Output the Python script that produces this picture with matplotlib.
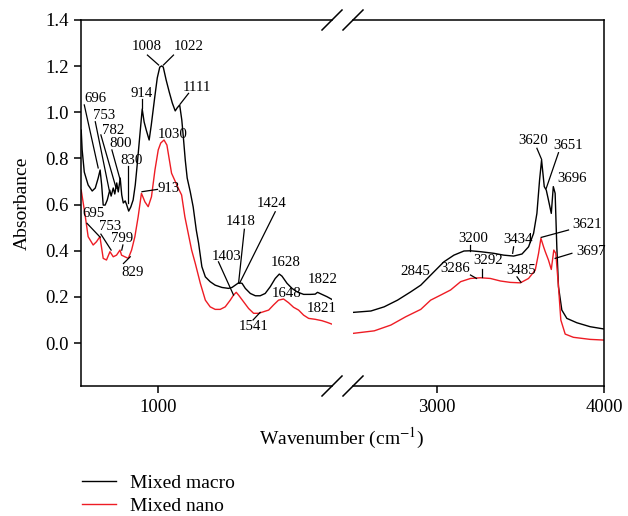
import matplotlib
matplotlib.use('Agg')
import matplotlib.pyplot as plt
from matplotlib.lines import Line2D

plt.rcParams['font.family'] = ['Liberation Serif', 'DejaVu Serif']
plt.rcParams['mathtext.fontset'] = 'stix'

# ---------------- data (wavenumber cm^-1, absorbance) ----------------
macro_low_wn = [601, 606, 617, 637, 658, 674, 689, 699, 707, 715, 725, 736, 749, 756, 767, 775,
                785, 793, 803, 811, 819, 829, 837, 847, 858, 870, 881, 891, 904, 917, 927, 938,
                953, 964, 982, 995, 1008, 1018, 1026, 1041, 1057, 1073, 1088, 1098, 1111, 1122,
                1130, 1140, 1150, 1166, 1181, 1197, 1209, 1226, 1244, 1269, 1295, 1330, 1364,
                1382, 1399, 1416, 1434, 1451, 1477, 1503, 1528, 1554, 1580, 1606, 1627, 1641,
                1667, 1693, 1719, 1753, 1788, 1813, 1825, 1848, 1874, 1900]
macro_low_abs = [0.923, 0.837, 0.741, 0.685, 0.659, 0.672, 0.715, 0.750, 0.685, 0.598, 0.598,
                 0.620, 0.663, 0.637, 0.672, 0.646, 0.694, 0.655, 0.715, 0.642, 0.607, 0.616,
                 0.598, 0.572, 0.590, 0.620, 0.685, 0.772, 0.893, 1.014, 0.958, 0.923, 0.880,
                 0.945, 1.066, 1.149, 1.196, 1.201, 1.196, 1.140, 1.088, 1.040, 1.006, 1.019,
                 1.032, 0.967, 0.893, 0.793, 0.715, 0.655, 0.590, 0.490, 0.433, 0.331, 0.287,
                 0.266, 0.251, 0.241, 0.237, 0.241, 0.251, 0.261, 0.259, 0.237, 0.215, 0.205,
                 0.205, 0.215, 0.244, 0.280, 0.299, 0.290, 0.259, 0.237, 0.222, 0.211, 0.211,
                 0.212, 0.220, 0.211, 0.201, 0.189]

nano_low_wn = [601, 620, 637, 663, 680, 698, 715, 732, 750, 767, 784, 802, 810, 827, 845, 862,
               879, 896, 913, 931, 948, 965, 983, 1000, 1013, 1030, 1045, 1069, 1104, 1121,
               1138, 1173, 1192, 1218, 1244, 1269, 1295, 1321, 1347, 1373, 1390, 1404, 1416,
               1442, 1468, 1494, 1520, 1546, 1572, 1597, 1623, 1649, 1675, 1701, 1727, 1753,
               1779, 1813, 1848, 1874, 1900]
nano_low_abs = [0.663, 0.562, 0.461, 0.425, 0.439, 0.461, 0.367, 0.360, 0.396, 0.374, 0.381,
                0.403, 0.381, 0.374, 0.367, 0.403, 0.461, 0.547, 0.649, 0.612, 0.591, 0.634,
                0.750, 0.837, 0.867, 0.880, 0.858, 0.736, 0.671, 0.642, 0.547, 0.403, 0.345,
                0.259, 0.186, 0.157, 0.146, 0.146, 0.157, 0.186, 0.208, 0.220, 0.208, 0.179,
                0.150, 0.129, 0.129, 0.136, 0.143, 0.165, 0.186, 0.191, 0.175, 0.155, 0.143,
                0.121, 0.107, 0.103, 0.097, 0.090, 0.082]

macro_high_wn = [2500, 2607, 2686, 2766, 2845, 2905, 2935, 2984, 3043, 3103, 3163, 3202, 3262,
                 3341, 3401, 3460, 3510, 3549, 3579, 3599, 3615, 3627, 3643, 3655, 3668, 3685,
                 3697, 3708, 3718, 3728, 3748, 3778, 3838, 3917, 4000]
macro_high_abs = [0.133, 0.139, 0.157, 0.186, 0.222, 0.251, 0.273, 0.309, 0.352, 0.381, 0.399,
                  0.400, 0.396, 0.389, 0.381, 0.377, 0.386, 0.417, 0.475, 0.562, 0.707, 0.793,
                  0.678, 0.663, 0.620, 0.562, 0.678, 0.649, 0.417, 0.244, 0.143, 0.107, 0.088,
                  0.071, 0.061]

nano_high_wn = [2500, 2627, 2726, 2815, 2905, 2964, 3024, 3083, 3143, 3202, 3262, 3321, 3381,
                3440, 3500, 3549, 3589, 3609, 3623, 3639, 3649, 3668, 3685, 3700, 3712, 3728,
                3742, 3768, 3817, 3917, 4000]
nano_high_abs = [0.042, 0.053, 0.078, 0.114, 0.146, 0.186, 0.208, 0.230, 0.266, 0.280, 0.283,
                 0.280, 0.269, 0.263, 0.261, 0.280, 0.316, 0.389, 0.454, 0.417, 0.396, 0.360,
                 0.319, 0.403, 0.389, 0.244, 0.100, 0.039, 0.025, 0.016, 0.013]

series_labels = ['Mixed macro', 'Mixed nano']
series_colors = ['black', '#ee1c24']

# peak labels: (text, text position, leader line or None)
low_labels = [
    ('696', (674, 1.062), (617, 1.032, 689, 0.759)),
    ('753', (720, 0.988), (674, 0.959, 746, 0.663)),
    ('782', (769, 0.923), (703, 0.902, 782, 0.671)),
    ('800', (807, 0.863), (760, 0.837, 803, 0.707)),
    ('830', (864, 0.793), (843, 0.767, 843, 0.606)),
    ('914', (914, 1.082), (917, 1.058, 917, 1.019)),
    ('1008', (941, 1.284), (944, 1.248, 1002, 1.205)),
    ('1022', (1157, 1.284), (1079, 1.248, 1027, 1.205)),
    ('1111', (1201, 1.108), (1157, 1.082, 1114, 1.036)),
    ('1030', (1076, 0.906), None),
    ('913', (1053, 0.671), (996, 0.666, 916, 0.656)),
    ('695', (664, 0.562), (631, 0.519, 699, 0.459)),
    ('753', (751, 0.504), (703, 0.472, 756, 0.403)),
    ('799', (811, 0.454), (817, 0.425, 811, 0.403)),
    ('829', (869, 0.306), (820, 0.345, 855, 0.374)),
    ('1403', (1356, 0.377), (1312, 0.352, 1390, 0.208)),
    ('1418', (1425, 0.526), (1446, 0.493, 1416, 0.259)),
    ('1424', (1589, 0.603), (1606, 0.569, 1421, 0.259)),
    ('1628', (1658, 0.348), None),
    ('1648', (1667, 0.215), None),
    ('1822', (1853, 0.276), None),
    ('1821', (1848, 0.150), None),
    ('1541', (1494, 0.071), (1491, 0.100, 1528, 0.133)),
]
high_labels = [
    ('2845', (2875, 0.309), None),
    ('3200', (3218, 0.454), (3202, 0.425, 3202, 0.400)),
    ('3434', (3486, 0.450), (3460, 0.417, 3454, 0.389)),
    ('3286', (3113, 0.324), (3202, 0.295, 3238, 0.280)),
    ('3292', (3308, 0.360), (3272, 0.319, 3272, 0.285)),
    ('3485', (3506, 0.316), (3480, 0.287, 3504, 0.263)),
    ('3620', (3579, 0.877), (3599, 0.844, 3627, 0.796)),
    ('3651', (3788, 0.858), (3728, 0.825, 3655, 0.671)),
    ('3696', (3808, 0.711), None),
    ('3621', (3897, 0.516), (3788, 0.490, 3625, 0.458)),
    ('3697', (3921, 0.396), (3808, 0.389, 3708, 0.367)),
]

# ---------------- figure ----------------
W, H = 628, 516
fig = plt.figure(figsize=(W / 100, H / 100), dpi=100)

def fx(px):
    return px / W

def fy(py):
    return 1 - py / H

top, bot = 20, 386
ax1 = fig.add_axes([fx(81), fy(bot), (332 - 81) / W, (bot - top) / H])
ax2 = fig.add_axes([fx(353), fy(bot), (604 - 353) / W, (bot - top) / H])

ylim = (-0.186, 1.4)
lw_data = 1.0
ax1.plot(macro_low_wn, macro_low_abs, color=series_colors[0], lw=lw_data, label=series_labels[0])
ax1.plot(nano_low_wn, nano_low_abs, color=series_colors[1], lw=lw_data, label=series_labels[1])
ax2.plot(macro_high_wn, macro_high_abs, color=series_colors[0], lw=lw_data)
ax2.plot(nano_high_wn, nano_high_abs, color=series_colors[1], lw=lw_data)

ax1.set_xlim(600, 1900)
ax2.set_xlim(2500, 4000)
for ax in (ax1, ax2):
    ax.set_ylim(*ylim)
    for s in ax.spines.values():
        s.set_linewidth(1.1)
    ax.tick_params(direction='out', length=5, width=1.1, labelsize=13.5, pad=4)

ax1.spines['right'].set_visible(False)
ax2.spines['left'].set_visible(False)
ax2.tick_params(axis='y', left=False, labelleft=False)
ax1.set_xticks([1000])
ax2.set_xticks([3000, 4000])
ax1.set_yticks([0.0, 0.2, 0.4, 0.6, 0.8, 1.0, 1.2, 1.4])
ax1.set_yticklabels(['0.0', '0.2', '0.4', '0.6', '0.8', '1.0', '1.2', '1.4'])
ax1.set_ylabel('Absorbance', fontsize=14, labelpad=10)
fig.text(fx(342), fy(438), 'Wavenumber (cm$^{-1}$)', ha='center', va='center', fontsize=14)

def annotate(ax, labels):
    for txt, (tx, ty), line in labels:
        ax.text(tx, ty, txt, ha='center', va='center', fontsize=10.7, clip_on=False)
        if line is not None:
            x0, y0, x1, y1 = line
            ax.plot([x0, x1], [y0, y1], color='black', lw=0.9, clip_on=False)

annotate(ax1, low_labels)
annotate(ax2, high_labels)

# break marks
def slash(cx, cy, d=10):
    fig.add_artist(Line2D([fx(cx - d), fx(cx + d)], [fy(cy + d), fy(cy - d)],
                          color='black', lw=1.1))

for cx in (332, 353):
    for cy in (top, bot):
        slash(cx, cy)

handles = [Line2D([], [], color=c, lw=1.0) for c in series_colors]
fig.legend(handles, series_labels, loc='upper left', bbox_to_anchor=(fx(82), fy(474)),
           frameon=False, fontsize=14, handlelength=1.75, handletextpad=0.7,
           labelspacing=0.3, borderpad=0, borderaxespad=0)

fig.savefig('out.png', dpi=100)
